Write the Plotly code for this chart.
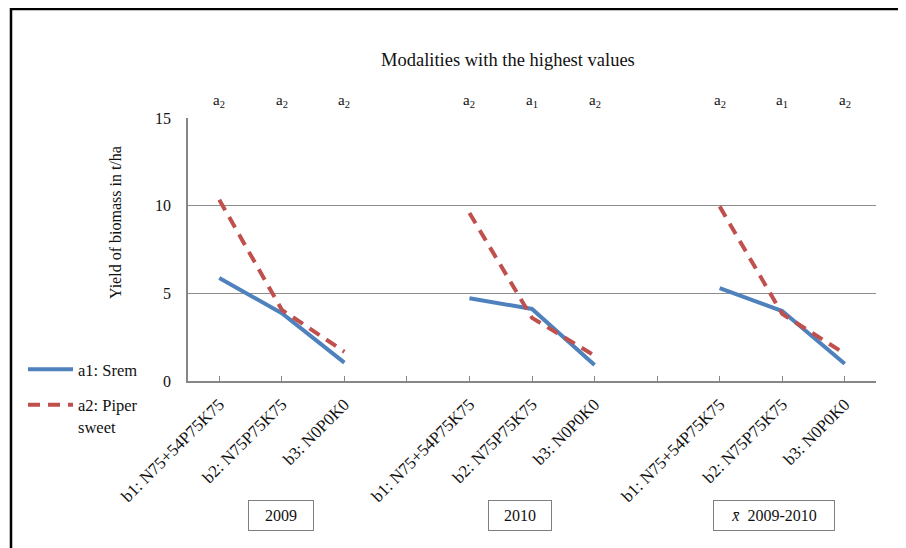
import plotly.graph_objects as go

# ---- data ----
groups = ["2009", "2010", "<i>x̄</i>  2009-2010"]
treatments = ["b1: N75+54P75K75", "b2: N75P75K75", "b3: N0P0K0"]
srem = [[5.87, 3.87, 1.05], [4.72, 4.11, 0.91], [5.30, 3.99, 0.98]]
piper = [[10.34, 4.06, 1.67], [9.58, 3.60, 1.45], [9.96, 3.83, 1.56]]
best = [["a<sub>2</sub>", "a<sub>2</sub>", "a<sub>2</sub>"],
        ["a<sub>2</sub>", "a<sub>1</sub>", "a<sub>2</sub>"],
        ["a<sub>2</sub>", "a<sub>1</sub>", "a<sub>2</sub>"]]
y_ticks = [0, 5, 10, 15]

SERIF = "Liberation Serif, Times New Roman, serif"
OFF = 8  # page body margin
W, H = 906 - OFF, 548 - OFF
L, R, T, B = 188 - OFF, 30, 118 - OFF, 167
PW, PH = W - L - R, H - T - B


def px(xp):  # reference screen pixel -> paper
    return (xp - OFF - L) / PW


def py(yp):
    return (H - B - (yp - OFF)) / PH


xpos, xlab = [], []
for g in range(len(groups)):
    for i, t in enumerate(treatments):
        xpos.append(g * 4 + i)
        xlab.append(t)
tickvals = list(range(0, 4 * len(groups) - 1))
ticktext = [xlab[xpos.index(v)] if v in xpos else "" for v in tickvals]

fig = go.Figure()
for g in range(len(groups)):
    xs = [g * 4 + i for i in range(len(treatments))]
    fig.add_trace(go.Scatter(x=xs, y=srem[g], mode="lines", name="a1: Srem",
                             line=dict(color="#4F81BD", width=4),
                             legendgroup="a1", showlegend=(g == 0)))
for g in range(len(groups)):
    xs = [g * 4 + i for i in range(len(treatments))]
    fig.add_trace(go.Scatter(x=xs, y=piper[g], mode="lines", name="a2: Piper<br>sweet",
                             line=dict(color="#C0504D", width=4, dash="12px,8px"),
                             legendgroup="a2", showlegend=(g == 0)))

annotations = []
for g in range(len(groups)):
    for i in range(len(treatments)):
        annotations.append(dict(x=g * 4 + i, xref="x", y=py(101), yref="paper",
                                xanchor="center", yanchor="middle",
                                text=best[g][i], showarrow=False,
                                font=dict(family=SERIF, size=15, color="#111")))
box_x = [281, 520, 774]
box_w = [56, 54, 112]
for g in range(len(groups)):
    annotations.append(dict(x=px(box_x[g]), xref="paper", y=py(516), yref="paper",
                            xanchor="center", yanchor="middle",
                            text=groups[g], showarrow=False, width=box_w[g], height=21,
                            bordercolor="#7F7F7F", borderwidth=1, borderpad=4,
                            font=dict(family=SERIF, size=16, color="#111")))
annotations.append(dict(x=px(508), xref="paper", y=py(60), yref="paper",
                        xanchor="center", yanchor="middle",
                        text="Modalities with the highest values", showarrow=False,
                        font=dict(family=SERIF, size=18.5, color="#111")))
annotations.append(dict(x=px(115), xref="paper", y=py(223), yref="paper",
                        xanchor="center", yanchor="middle",
                        text="Yield of biomass in t/ha", showarrow=False, textangle=-90,
                        font=dict(family=SERIF, size=16, color="#111")))

fig.update_layout(
    width=W, height=H,
    margin=dict(l=L, r=R, t=T, b=B),
    paper_bgcolor="white", plot_bgcolor="white",
    font=dict(family=SERIF, size=15, color="#111"),
    annotations=annotations,
    showlegend=True,
    legend=dict(x=px(23), y=py(352), xanchor="left", yanchor="top",
                font=dict(family=SERIF, size=16.5, color="#111"),
                valign="top", tracegroupgap=11, itemwidth=45,
                bgcolor="rgba(0,0,0,0)"),
    shapes=[dict(type="rect", xref="paper", yref="paper",
                 x0=px(11), x1=px(930), y0=py(9), y1=py(620),
                 line=dict(color="black", width=2.5))],
)
fig.update_xaxes(range=[-0.5, len(tickvals) - 0.5], tickmode="array",
                 tickvals=tickvals, ticktext=ticktext, tickangle=-45,
                 ticks="inside", ticklen=5, tickcolor="#868686",
                 showline=True, linecolor="#868686", linewidth=1.5,
                 showgrid=False, zeroline=False, ticklabelstandoff=5,
                 tickfont=dict(family=SERIF, size=17, color="#111"))
fig.update_yaxes(range=[0, 15], tickmode="array", tickvals=y_ticks,
                 showgrid=True, gridcolor="#8C8C8C", gridwidth=1,
                 showline=True, linecolor="#868686", linewidth=1.5,
                 zeroline=False, ticks="", ticklabelstandoff=12,
                 tickfont=dict(family=SERIF, size=16, color="#111"))

fig.write_html("out.html")
